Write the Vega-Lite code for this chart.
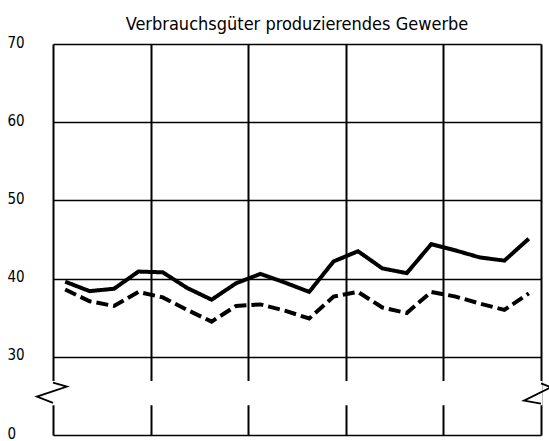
{
  "$schema": "https://vega.github.io/schema/vega-lite/v6.json",
  "width": 488,
  "height": 391,
  "autosize": {"type": "none"},
  "padding": {"left": 53, "top": 44, "right": 8, "bottom": 6},
  "background": "white",
  "config": {
    "view": {"stroke": null},
    "font": "DejaVu Sans Condensed, Liberation Sans, sans-serif"
  },
  "title": {
    "text": "Verbrauchsgüter produzierendes Gewerbe",
    "font": "DejaVu Sans Condensed, Liberation Sans, sans-serif",
    "fontSize": 18,
    "fontWeight": "normal",
    "color": "black",
    "anchor": "middle",
    "baseline": "alphabetic",
    "offset": -13
  },
  "datasets": {
    "series": [
      {"t": 0.5, "v": 39.6, "s": "A"},
      {"t": 1.5, "v": 38.4, "s": "A"},
      {"t": 2.5, "v": 38.7, "s": "A"},
      {"t": 3.5, "v": 40.9, "s": "A"},
      {"t": 4.5, "v": 40.8, "s": "A"},
      {"t": 5.5, "v": 38.8, "s": "A"},
      {"t": 6.5, "v": 37.3, "s": "A"},
      {"t": 7.5, "v": 39.4, "s": "A"},
      {"t": 8.5, "v": 40.6, "s": "A"},
      {"t": 9.5, "v": 39.5, "s": "A"},
      {"t": 10.5, "v": 38.3, "s": "A"},
      {"t": 11.5, "v": 42.2, "s": "A"},
      {"t": 12.5, "v": 43.5, "s": "A"},
      {"t": 13.5, "v": 41.3, "s": "A"},
      {"t": 14.5, "v": 40.7, "s": "A"},
      {"t": 15.5, "v": 44.4, "s": "A"},
      {"t": 16.5, "v": 43.6, "s": "A"},
      {"t": 17.5, "v": 42.7, "s": "A"},
      {"t": 18.5, "v": 42.3, "s": "A"},
      {"t": 19.5, "v": 45.1, "s": "A"},
      {"t": 0.5, "v": 38.6, "s": "B"},
      {"t": 1.5, "v": 37.1, "s": "B"},
      {"t": 2.5, "v": 36.5, "s": "B"},
      {"t": 3.5, "v": 38.3, "s": "B"},
      {"t": 4.5, "v": 37.6, "s": "B"},
      {"t": 5.5, "v": 36.0, "s": "B"},
      {"t": 6.5, "v": 34.5, "s": "B"},
      {"t": 7.5, "v": 36.5, "s": "B"},
      {"t": 8.5, "v": 36.7, "s": "B"},
      {"t": 9.5, "v": 35.9, "s": "B"},
      {"t": 10.5, "v": 34.9, "s": "B"},
      {"t": 11.5, "v": 37.7, "s": "B"},
      {"t": 12.5, "v": 38.3, "s": "B"},
      {"t": 13.5, "v": 36.3, "s": "B"},
      {"t": 14.5, "v": 35.6, "s": "B"},
      {"t": 15.5, "v": 38.3, "s": "B"},
      {"t": 16.5, "v": 37.7, "s": "B"},
      {"t": 17.5, "v": 36.8, "s": "B"},
      {"t": 18.5, "v": 36.0, "s": "B"},
      {"t": 19.5, "v": 38.1, "s": "B"}
    ],
    "gap": [{"lo": 24.0, "hi": 26.7}],
    "zigzag": [
      {"side": "L", "o": 0, "x": 0, "y": 26.7},
      {"side": "L", "o": 1, "x": 0.57, "y": 26.2},
      {"side": "L", "o": 2, "x": -0.66, "y": 24.9},
      {"side": "L", "o": 3, "x": 0, "y": 24.1},
      {"side": "R", "o": 0, "x": 20, "y": 26.6},
      {"side": "R", "o": 1, "x": 20.4, "y": 26.1},
      {"side": "R", "o": 2, "x": 19.3, "y": 24.4},
      {"side": "R", "o": 3, "x": 20, "y": 24.0}
    ]
  },
  "layer": [
    {
      "data": {"name": "series"},
      "mark": {"type": "line", "color": "black", "strokeWidth": 4, "strokeCap": "butt", "strokeJoin": "miter"},
      "encoding": {
        "x": {
          "field": "t", "type": "quantitative",
          "scale": {"domain": [0, 20], "nice": false, "zero": false},
          "axis": {
            "values": [0, 4, 8, 12, 16, 20],
            "grid": true, "gridColor": "black", "gridWidth": 2, "gridOpacity": 1,
            "labels": false, "ticks": false, "domain": false, "title": null
          }
        },
        "y": {
          "field": "v", "type": "quantitative",
          "scale": {"domain": [20, 70], "nice": false, "zero": false},
          "axis": {
            "values": [20, 30, 40, 50, 60, 70],
            "labelExpr": "datum.value == 20 ? '0' : datum.label",
            "grid": true, "gridColor": "black", "gridWidth": 1.6, "gridOpacity": 1,
            "ticks": false, "tickSize": 0, "domain": false, "title": null,
            "labelAlign": "left", "labelPadding": 46, "labelFontSize": 15,
            "labelFont": "DejaVu Sans Condensed, Liberation Sans, sans-serif", "labelColor": "black",
            "labelBaseline": "middle", "labelOffset": -2
          }
        },
        "detail": {"field": "s"},
        "strokeDash": {
          "field": "s", "type": "nominal",
          "scale": {"domain": ["A", "B"], "range": [[1, 0], [12, 5]]},
          "legend": null
        }
      }
    },
    {
      "data": {"name": "gap"},
      "mark": {"type": "rect", "color": "white", "stroke": "white", "strokeWidth": 3},
      "encoding": {
        "y": {"field": "lo", "type": "quantitative"},
        "y2": {"field": "hi"}
      }
    },
    {
      "data": {"name": "zigzag"},
      "mark": {"type": "line", "color": "black", "strokeWidth": 1.8, "clip": false},
      "encoding": {
        "x": {"field": "x", "type": "quantitative"},
        "y": {"field": "y", "type": "quantitative"},
        "detail": {"field": "side"},
        "order": {"field": "o"}
      }
    }
  ]
}
